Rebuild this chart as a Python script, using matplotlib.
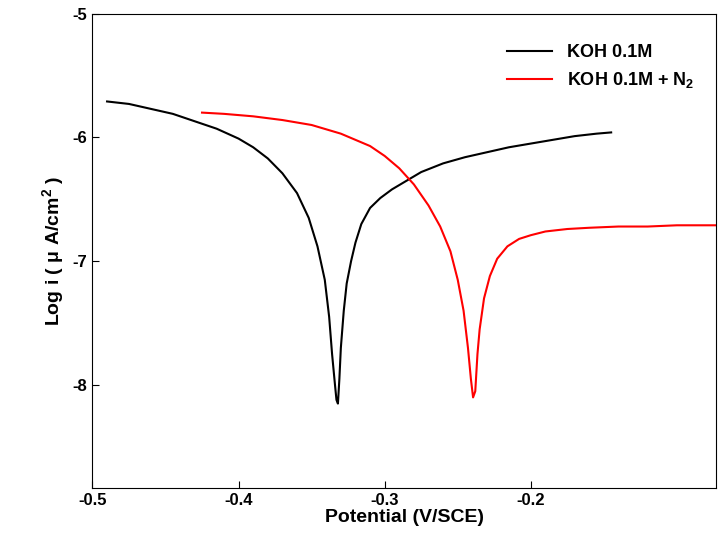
import matplotlib
matplotlib.use("Agg")
import matplotlib.pyplot as plt
plt.rcParams['font.family'] = ['Liberation Sans', 'DejaVu Sans']
plt.rcParams['mathtext.fontset'] = 'custom'
plt.rcParams['mathtext.rm'] = 'Liberation Sans:bold'
plt.rcParams['mathtext.bf'] = 'Liberation Sans:bold'

black_x = [-0.490,-0.475,-0.46,-0.445,-0.43,-0.415,-0.40,-0.39,-0.38,-0.37,-0.36,-0.352,-0.346,-0.341,-0.338,-0.336,-0.334,-0.333,-0.332,-0.331,-0.330,-0.328,-0.326,-0.323,-0.320,-0.316,-0.310,-0.303,-0.295,-0.285,-0.275,-0.26,-0.245,-0.23,-0.215,-0.20,-0.185,-0.17,-0.155,-0.145]
black_y = [-5.71,-5.73,-5.77,-5.81,-5.87,-5.93,-6.01,-6.08,-6.17,-6.29,-6.45,-6.65,-6.88,-7.15,-7.45,-7.75,-8.00,-8.12,-8.15,-7.95,-7.70,-7.40,-7.18,-7.00,-6.85,-6.70,-6.57,-6.49,-6.42,-6.35,-6.28,-6.21,-6.16,-6.12,-6.08,-6.05,-6.02,-5.99,-5.97,-5.96]
red_x = [-0.425,-0.41,-0.39,-0.37,-0.35,-0.33,-0.31,-0.30,-0.29,-0.28,-0.27,-0.262,-0.255,-0.250,-0.246,-0.243,-0.241,-0.2395,-0.238,-0.2365,-0.235,-0.232,-0.228,-0.223,-0.216,-0.208,-0.20,-0.19,-0.175,-0.16,-0.14,-0.12,-0.10,-0.073]
red_y = [-5.80,-5.81,-5.83,-5.86,-5.90,-5.97,-6.07,-6.15,-6.25,-6.38,-6.55,-6.72,-6.92,-7.15,-7.40,-7.70,-7.95,-8.10,-8.05,-7.75,-7.55,-7.30,-7.12,-6.98,-6.88,-6.82,-6.79,-6.76,-6.74,-6.73,-6.72,-6.72,-6.71,-6.71]

fig, ax = plt.subplots(figsize=(7.28,5.42), dpi=100)
fig.subplots_adjust(left=0.127, right=0.984, bottom=0.1, top=0.975)
ax.plot(black_x, black_y, color='black', lw=1.5, label='KOH 0.1M')
ax.plot(red_x, red_y, color='red', lw=1.5, label='KOH 0.1M + N$_2$')
ax.set_xlim(-0.5, -0.073)
ax.set_ylim(-8.83, -5)
ax.set_xticks([-0.5,-0.4,-0.3,-0.2])
ax.set_xticklabels(['-0.5','-0.4','-0.3','-0.2'])
ax.set_yticks([-5,-6,-7,-8])
ax.set_yticklabels(['-5','-6','-7','-8'])
for lab in ax.get_xticklabels()+ax.get_yticklabels():
    lab.set_fontweight('bold'); lab.set_fontsize(12)
ax.tick_params(direction='in', length=5)
ax.set_xlabel('Potential (V/SCE)', fontweight='bold', fontsize=14, labelpad=1)
ax.set_ylabel('Log i ( μ A/cm$^2$ )', fontweight='bold', fontsize=14)
leg = ax.legend(loc='upper right', frameon=False, prop={'weight':'bold','size':13}, handlelength=2.5, bbox_to_anchor=(0.99,0.97))
fig.savefig('out.png')
